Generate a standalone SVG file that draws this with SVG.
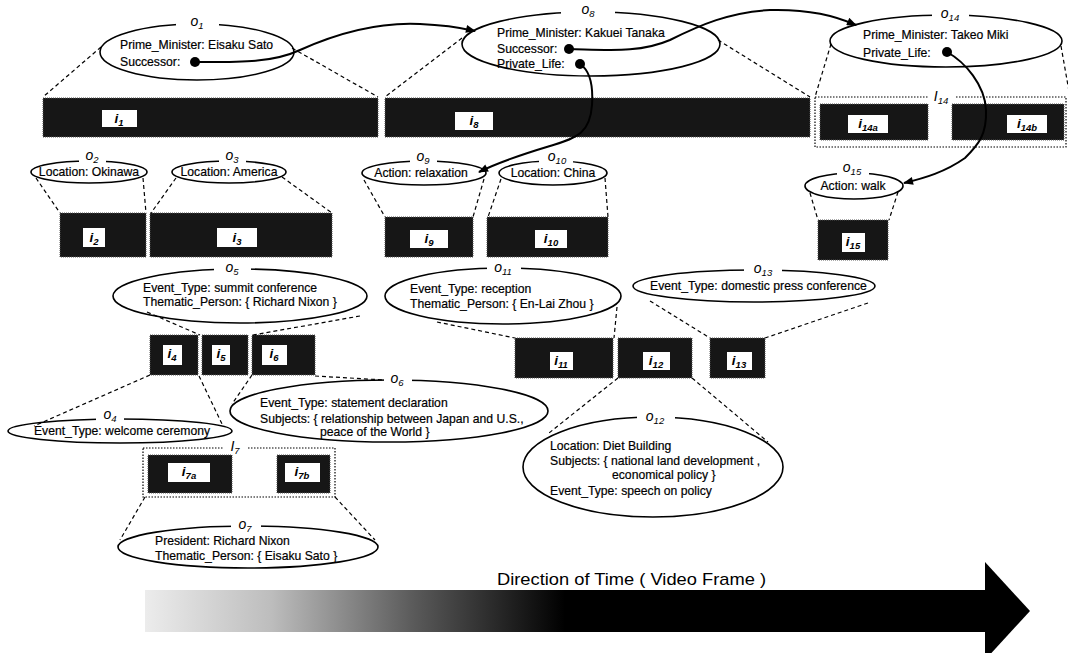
<svg xmlns="http://www.w3.org/2000/svg" width="1068" height="653" viewBox="0 0 1068 653">
<defs>
<style>
.t{font-family:"Liberation Sans",Arial,sans-serif;font-size:12.2px;fill:#000;stroke:#000;stroke-width:0.2}
.tc{font-family:"Liberation Sans",Arial,sans-serif;font-size:12.2px;fill:#000;stroke:#000;stroke-width:0.2;text-anchor:middle}
.ol{font-family:"Liberation Sans",Arial,sans-serif;font-style:italic;font-size:14px;fill:#000;text-anchor:middle}
.il{font-family:"Liberation Sans",Arial,sans-serif;font-style:italic;font-weight:bold;font-size:13.5px;fill:#000;text-anchor:middle}
.sb{font-size:9.5px}
.el{fill:none;stroke:#000;stroke-width:1.6}
.gap{fill:#fff;stroke:none}
.bar{fill:#161616;stroke:#555;stroke-width:1;stroke-dasharray:1 1}
.lb{fill:#fff;stroke:none}
.grp{fill:none;stroke:#000;stroke-width:1.2;stroke-dasharray:1.5 1.5}
.dash{fill:none;stroke:#000;stroke-width:1.2;stroke-dasharray:4 3}
.link{fill:none;stroke:#000;stroke-width:2}
.dot{fill:#000}
</style>
<marker id="ah" viewBox="0 0 10 8" refX="9" refY="4" markerWidth="11" markerHeight="8" markerUnits="userSpaceOnUse" orient="auto">
<path d="M0,0 L10,4 L0,8 z" fill="#000"/>
</marker>
<linearGradient id="tg" x1="145" y1="0" x2="985" y2="0" gradientUnits="userSpaceOnUse">
<stop offset="0" stop-color="#ececec"/>
<stop offset="0.15" stop-color="#bdbdbd"/>
<stop offset="0.32" stop-color="#5a5a5a"/>
<stop offset="0.5" stop-color="#000"/>
<stop offset="1" stop-color="#000"/>
</linearGradient>
</defs>
<rect width="1068" height="653" fill="#fff"/>

<!-- video intervals -->
<g id="i1"><rect class="bar" x="43" y="98" width="335" height="39"/><rect class="lb" x="102" y="110" width="35" height="17"/><text class="il" x="119" y="123">i<tspan class="sb" dy="3">1</tspan></text></g>
<g id="i8"><rect class="bar" x="385" y="98" width="425" height="39"/><rect class="lb" x="455" y="112" width="38" height="18"/><text class="il" x="474" y="125">i<tspan class="sb" dy="3">8</tspan></text></g>
<g id="I14"><rect class="grp" x="815" y="97" width="251" height="50"/><rect class="gap" x="928" y="92" width="28" height="10"/><text class="ol" x="941" y="101">I<tspan class="sb" dy="3">14</tspan></text></g>
<g id="i14a"><rect class="bar" x="820" y="104" width="108" height="36"/><rect class="lb" x="848" y="115" width="40" height="18"/><text class="il" x="868" y="128">i<tspan class="sb" dy="3">14a</tspan></text></g>
<g id="i14b"><rect class="bar" x="952" y="104" width="112" height="36"/><rect class="lb" x="1007" y="115" width="40" height="18"/><text class="il" x="1027" y="128">i<tspan class="sb" dy="3">14b</tspan></text></g>
<g id="i2"><rect class="bar" x="60" y="213" width="86" height="44"/><rect class="lb" x="83" y="228" width="22" height="19"/><text class="il" x="94" y="242">i<tspan class="sb" dy="3">2</tspan></text></g>
<g id="i3"><rect class="bar" x="150" y="213" width="182" height="44"/><rect class="lb" x="217" y="228" width="40" height="19"/><text class="il" x="237" y="242">i<tspan class="sb" dy="3">3</tspan></text></g>
<g id="i9"><rect class="bar" x="385" y="217" width="88" height="40"/><rect class="lb" x="410" y="230" width="38" height="18"/><text class="il" x="429" y="243">i<tspan class="sb" dy="3">9</tspan></text></g>
<g id="i10"><rect class="bar" x="487" y="217" width="121" height="40"/><rect class="lb" x="535" y="230" width="32" height="18"/><text class="il" x="551" y="243">i<tspan class="sb" dy="3">10</tspan></text></g>
<g id="i15"><rect class="bar" x="818" y="220" width="70" height="40"/><rect class="lb" x="842" y="233" width="23" height="19"/><text class="il" x="853" y="246">i<tspan class="sb" dy="3">15</tspan></text></g>
<g id="i4"><rect class="bar" x="150" y="335" width="48" height="40"/><rect class="lb" x="163" y="345" width="19" height="20"/><text class="il" x="172" y="358">i<tspan class="sb" dy="3">4</tspan></text></g>
<g id="i5"><rect class="bar" x="202" y="335" width="46" height="40"/><rect class="lb" x="212" y="345" width="18" height="20"/><text class="il" x="221" y="358">i<tspan class="sb" dy="3">5</tspan></text></g>
<g id="i6"><rect class="bar" x="252" y="335" width="63" height="40"/><rect class="lb" x="262" y="345" width="25" height="20"/><text class="il" x="274" y="358">i<tspan class="sb" dy="3">6</tspan></text></g>
<g id="I7"><rect class="grp" x="143" y="448" width="192" height="49"/><rect class="gap" x="224" y="442" width="24" height="10"/><text class="ol" x="235" y="451">I<tspan class="sb" dy="3">7</tspan></text></g>
<g id="i7a"><rect class="bar" x="148" y="455" width="84" height="38"/><rect class="lb" x="168" y="463" width="42" height="19"/><text class="il" x="189" y="476">i<tspan class="sb" dy="3">7a</tspan></text></g>
<g id="i7b"><rect class="bar" x="277" y="455" width="53" height="38"/><rect class="lb" x="285" y="463" width="35" height="19"/><text class="il" x="302" y="476">i<tspan class="sb" dy="3">7b</tspan></text></g>
<g id="i11"><rect class="bar" x="515" y="338" width="98" height="40"/><rect class="lb" x="550" y="352" width="23" height="18"/><text class="il" x="561" y="365">i<tspan class="sb" dy="3">11</tspan></text></g>
<g id="i12"><rect class="bar" x="618" y="338" width="74" height="40"/><rect class="lb" x="643" y="352" width="27" height="18"/><text class="il" x="656" y="365">i<tspan class="sb" dy="3">12</tspan></text></g>
<g id="i13"><rect class="bar" x="710" y="338" width="55" height="40"/><rect class="lb" x="727" y="352" width="25" height="18"/><text class="il" x="739" y="365">i<tspan class="sb" dy="3">13</tspan></text></g>

<!-- objects -->
<g id="o1"><ellipse class="el" cx="197" cy="52" rx="97" ry="28"/><rect class="gap" x="176" y="18" width="43" height="12"/><text class="ol" x="197" y="26">o<tspan class="sb" dy="3">1</tspan></text>
<text class="t" x="120" y="49">Prime_Minister: Eisaku Sato</text><text class="t" x="120" y="66">Successor:</text></g>
<g id="o8"><ellipse class="el" cx="591" cy="44" rx="129" ry="32"/><rect class="gap" x="561" y="5" width="54" height="13"/><text class="ol" x="588" y="14">o<tspan class="sb" dy="3">8</tspan></text>
<text class="t" x="497" y="37">Prime_Minister: Kakuei Tanaka</text><text class="t" x="497" y="53">Successor:</text><text class="t" x="497" y="68">Private_Life:</text></g>
<g id="o14"><ellipse class="el" cx="946" cy="41" rx="116" ry="26"/><rect class="gap" x="932" y="8" width="37" height="13"/><text class="ol" x="950" y="18">o<tspan class="sb" dy="3">14</tspan></text>
<text class="t" x="863" y="39">Prime_Minister: Takeo Miki</text><text class="t" x="863" y="57">Private_Life:</text></g>
<g id="o2"><ellipse class="el" cx="89" cy="172" rx="58" ry="11"/><rect class="gap" x="79" y="154" width="27" height="12"/><text class="ol" x="92" y="160">o<tspan class="sb" dy="3">2</tspan></text><text class="tc" x="89" y="176">Location: Okinawa</text></g>
<g id="o3"><ellipse class="el" cx="229" cy="172" rx="57" ry="11"/><rect class="gap" x="219" y="154" width="27" height="12"/><text class="ol" x="232" y="160">o<tspan class="sb" dy="3">3</tspan></text><text class="tc" x="229" y="176">Location: America</text></g>
<g id="o9"><ellipse class="el" cx="424" cy="173" rx="62" ry="12"/><rect class="gap" x="410" y="155" width="27" height="12"/><text class="ol" x="423" y="161">o<tspan class="sb" dy="3">9</tspan></text><text class="tc" x="421" y="177">Action: relaxation</text></g>
<g id="o10"><ellipse class="el" cx="553" cy="173" rx="54" ry="12"/><rect class="gap" x="539" y="155" width="34" height="12"/><text class="ol" x="557" y="161">o<tspan class="sb" dy="3">10</tspan></text><text class="tc" x="553" y="177">Location: China</text></g>
<g id="o15"><ellipse class="el" cx="854" cy="186" rx="49" ry="13"/><rect class="gap" x="837" y="166" width="32" height="12"/><text class="ol" x="852" y="172">o<tspan class="sb" dy="3">15</tspan></text><text class="tc" x="853" y="190">Action: walk</text></g>
<g id="o5"><ellipse class="el" cx="240" cy="296" rx="127" ry="27"/><rect class="gap" x="214" y="263" width="37" height="12"/><text class="ol" x="232" y="272">o<tspan class="sb" dy="3">5</tspan></text>
<text class="t" x="143" y="292">Event_Type: summit conference</text><text class="t" x="143" y="306">Thematic_Person: { Richard Nixon }</text></g>
<g id="o11"><ellipse class="el" cx="503" cy="296" rx="118" ry="28"/><rect class="gap" x="487" y="262" width="34" height="12"/><text class="ol" x="503" y="272">o<tspan class="sb" dy="3">11</tspan></text>
<text class="t" x="410" y="293">Event_Type: reception</text><text class="t" x="410" y="308">Thematic_Person: { En-Lai Zhou }</text></g>
<g id="o13"><ellipse class="el" cx="754" cy="286" rx="121" ry="16"/><rect class="gap" x="744" y="264" width="38" height="12"/><text class="ol" x="763" y="273">o<tspan class="sb" dy="3">13</tspan></text>
<text class="t" x="650" y="290">Event_Type: domestic press conference</text></g>
<g id="o4"><ellipse class="el" cx="120" cy="431" rx="112" ry="12"/><rect class="gap" x="96" y="413" width="28" height="12"/><text class="ol" x="110" y="419">o<tspan class="sb" dy="3">4</tspan></text><text class="tc" x="122" y="435">Event_Type: welcome ceremony</text></g>
<g id="o6"><ellipse class="el" cx="389" cy="411" rx="159" ry="31"/><rect class="gap" x="384" y="374" width="28" height="12"/><text class="ol" x="397" y="383">o<tspan class="sb" dy="3">6</tspan></text>
<text class="t" x="260" y="407">Event_Type: statement declaration</text><text class="t" x="260" y="423">Subjects: { relationship between Japan and U.S.,</text><text class="t" x="320" y="436">peace of the World }</text></g>
<g id="o12"><ellipse class="el" cx="653" cy="467" rx="130" ry="50"/><rect class="gap" x="637" y="411" width="38" height="12"/><text class="ol" x="655" y="421">o<tspan class="sb" dy="3">12</tspan></text>
<text class="t" x="550" y="450">Location: Diet Building</text><text class="t" x="550" y="465">Subjects: { national land development ,</text><text class="t" x="612" y="479">economical policy }</text><text class="t" x="550" y="495">Event_Type: speech on policy</text></g>
<g id="o7"><ellipse class="el" cx="248" cy="547" rx="130" ry="21"/><rect class="gap" x="231" y="520" width="30" height="12"/><text class="ol" x="245" y="529">o<tspan class="sb" dy="3">7</tspan></text>
<text class="t" x="155" y="545">President: Richard Nixon</text><text class="t" x="155" y="560">Thematic_Person: { Eisaku Sato }</text></g>

<!-- connectors -->
<g id="connectors">
<line class="dash" x1="101" y1="47" x2="43" y2="97"/>
<line class="dash" x1="292" y1="48" x2="378" y2="97"/>
<line class="dash" x1="462" y1="38" x2="385" y2="97"/>
<line class="dash" x1="718" y1="40" x2="810" y2="97"/>
<line class="dash" x1="831" y1="44" x2="815" y2="97"/>
<line class="dash" x1="1061" y1="46" x2="1070" y2="97"/>
<line class="dash" x1="36" y1="178" x2="60" y2="213"/>
<line class="dash" x1="143" y1="178" x2="146" y2="213"/>
<line class="dash" x1="176" y1="178" x2="151" y2="213"/>
<line class="dash" x1="282" y1="177" x2="332" y2="213"/>
<line class="dash" x1="364" y1="180" x2="385" y2="217"/>
<line class="dash" x1="484" y1="179" x2="473" y2="217"/>
<line class="dash" x1="501" y1="179" x2="488" y2="217"/>
<line class="dash" x1="605" y1="178" x2="608" y2="217"/>
<line class="dash" x1="810" y1="193" x2="818" y2="220"/>
<line class="dash" x1="898" y1="192" x2="889" y2="220"/>
<line class="dash" x1="147" y1="312" x2="200" y2="335"/>
<line class="dash" x1="360" y1="316" x2="253" y2="335"/>
<line class="dash" x1="150" y1="375" x2="34" y2="426"/>
<line class="dash" x1="199" y1="376" x2="223" y2="426"/>
<line class="dash" x1="252" y1="375" x2="232" y2="404"/>
<line class="dash" x1="315" y1="376" x2="384" y2="380"/>
<line class="dash" x1="145" y1="497" x2="120" y2="540"/>
<line class="dash" x1="335" y1="497" x2="375" y2="540"/>
<line class="dash" x1="437" y1="322" x2="515" y2="338"/>
<line class="dash" x1="617" y1="307" x2="614" y2="338"/>
<line class="dash" x1="650" y1="301" x2="710" y2="338"/>
<line class="dash" x1="868" y1="303" x2="765" y2="338"/>
<line class="dash" x1="618" y1="378" x2="549" y2="433"/>
<line class="dash" x1="692" y1="378" x2="768" y2="442"/>
<path class="link" marker-end="url(#ah)" d="M195,62 C240,62 272,63 300,50 C340,32 380,22 420,24 C445,25 462,28 475,31"/>
<path class="link" marker-end="url(#ah)" d="M569,49 C610,50 640,53 670,40 C700,25 730,12 770,10 C810,9 835,16 856,25"/>
<path class="link" marker-end="url(#ah)" d="M580,64 C592,72 593,90 592,105 C590,135 575,138 550,146 C520,155 497,163 479,172"/>
<path class="link" marker-end="url(#ah)" d="M947,52 C965,62 985,85 986,110 C987,135 978,145 965,158 C945,172 925,178 904,183"/>
<circle class="dot" cx="195" cy="62" r="5"/>
<circle class="dot" cx="569" cy="49" r="5"/>
<circle class="dot" cx="580" cy="64" r="5"/>
<circle class="dot" cx="947" cy="52" r="5"/>
</g>

<!-- time arrow -->
<g id="time-arrow">
<text x="497" y="585" font-family="Liberation Sans, Arial, sans-serif" font-size="17" textLength="269" lengthAdjust="spacingAndGlyphs">Direction of Time ( Video Frame )</text>
<rect x="145" y="590" width="841" height="42" fill="url(#tg)"/>
<polygon points="985,562 1030,611 985,660" fill="#000"/>
</g>
</svg>
